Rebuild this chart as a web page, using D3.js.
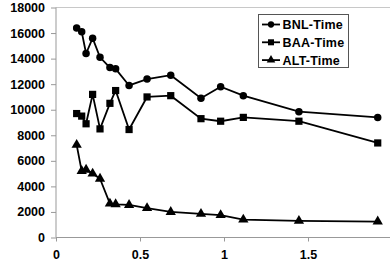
<!DOCTYPE html>
<html><head><meta charset="utf-8">
<script src="https://cdn.jsdelivr.net/npm/d3@7"></script>
<style>body{margin:0;background:#fff}svg{display:block}text{font-family:"Liberation Sans",Arial,sans-serif;font-weight:bold;fill:#000}</style>
</head><body><svg id="c" width="390" height="266"></svg>
<script>
const xValues = [0.123,0.153,0.179,0.218,0.262,0.321,0.355,0.435,0.542,0.683,0.863,0.980,1.115,1.446,1.915];
const bnlTime = [16400,16100,14400,15600,14100,13300,13200,11900,12400,12700,10900,11800,11100,9850,9400];
const baaTime = [9700,9500,8900,11200,8500,10500,11500,8450,11000,11100,9300,9100,9400,9100,7400];
const altTime = [7250,5200,5300,5000,4600,2650,2600,2550,2300,2000,1850,1750,1400,1300,1250];
const seriesNames = ["BNL-Time","BAA-Time","ALT-Time"];
const yTicks = [0,2000,4000,6000,8000,10000,12000,14000,16000,18000];
const xTicks = [0,0.5,1,1.5];

const svg = d3.select("#c");
const x = d3.scaleLinear().domain([0,2]).range([56,392]);
const y = d3.scaleLinear().domain([0,18000]).range([237.5,7.5]);

// top border line of plot area
svg.append("line").attr("x1",56).attr("x2",392).attr("y1",y(18000)).attr("y2",y(18000))
  .attr("stroke","#c8c8c8").attr("stroke-width",1);

const yAxis = svg.append("g").attr("transform","translate(56,0)")
  .call(d3.axisLeft(y).tickValues(yTicks).tickSize(5).tickPadding(6).tickFormat(d3.format("d")));
const xAxis = svg.append("g").attr("transform","translate(0,237.5)")
  .call(d3.axisBottom(x).tickValues(xTicks).tickSize(4).tickPadding(9).tickFormat(d=>String(d)));
[yAxis,xAxis].forEach(g=>{
  g.select(".domain").attr("stroke","#999");
  g.selectAll(".tick line").attr("stroke","#999");
  g.selectAll("text").attr("font-size","12.5px").attr("font-family","'Liberation Sans',Arial,sans-serif").attr("font-weight","bold").attr("fill","#000");
});
yAxis.select(".domain").attr("d","M0,"+y(0)+"V"+y(18000));
xAxis.select(".domain").attr("d","M56,0H392");

const sym = [d3.symbolCircle, d3.symbolSquare, d3.symbolTriangle];
const sizes = [44, 52, 46];
const data = [bnlTime, baaTime, altTime];
const line = d3.line().x((d,i)=>x(xValues[i])).y(d=>y(d));
data.forEach((vals,k)=>{
  svg.append("path").attr("d",line(vals)).attr("fill","none").attr("stroke","#000").attr("stroke-width",1.8);
  svg.append("g").selectAll("path").data(vals).join("path")
    .attr("transform",(d,i)=>`translate(${x(xValues[i])},${y(d)})`)
    .attr("d",d3.symbol().type(sym[k]).size(sizes[k])).attr("fill","#000");
});

// legend
const lg = svg.append("g");
lg.append("rect").attr("x",258.5).attr("y",14.5).attr("width",90).attr("height",53)
  .attr("fill","#fff").attr("stroke","#555").attr("stroke-width",1);
seriesNames.forEach((n,k)=>{
  const yy = 24.5 + k*17.8;
  lg.append("line").attr("x1",262).attr("x2",280).attr("y1",yy).attr("y2",yy).attr("stroke","#000").attr("stroke-width",1.8);
  lg.append("path").attr("transform",`translate(271,${yy})`).attr("d",d3.symbol().type(sym[k]).size(sizes[k]*0.7)).attr("fill","#000");
  lg.append("text").attr("x",282.5).attr("y",yy+4.5).attr("font-size","12.5px").attr("letter-spacing","0.2px").text(n);
});
</script></body></html>
